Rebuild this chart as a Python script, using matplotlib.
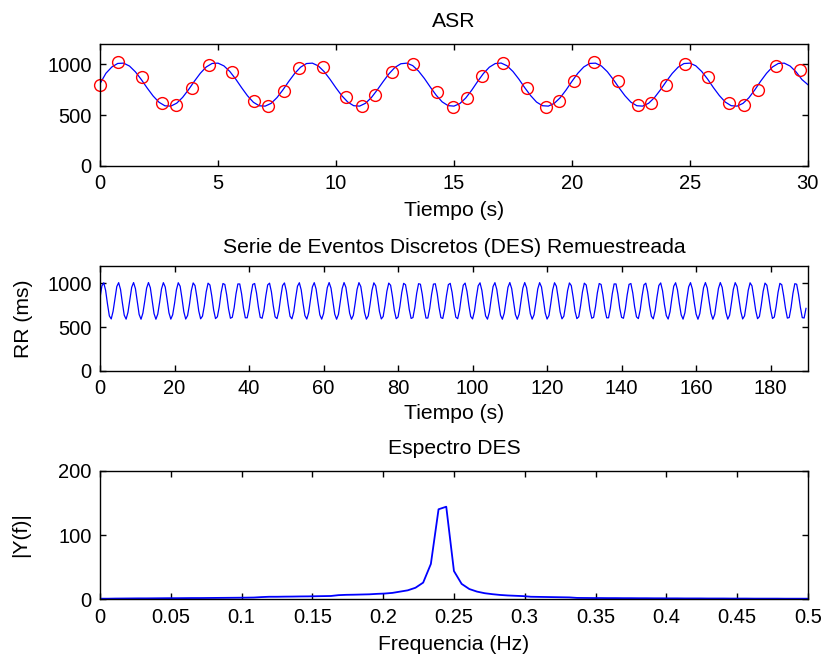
import numpy as np
import matplotlib
matplotlib.use('Agg')
import matplotlib.pyplot as plt

plt.rcParams['font.family'] = ['Liberation Sans', 'DejaVu Sans']
plt.rcParams['font.size'] = 15.2
plt.rcParams['axes.titlesize'] = 15.2
plt.rcParams['xtick.labelsize'] = 14.5
plt.rcParams['ytick.labelsize'] = 14.5

# -------------------- datos ----------------------
# ASR: curva continua cada 0.25 s (0..30 s)
asr_line = [
    810, 912, 974, 1009, 1012, 983, 926, 850, 766, 688, 626, 591, 588, 617, 674, 750,
    834, 912, 974, 1009, 1012, 985, 930, 855, 770, 690, 626, 591, 588, 615, 672, 748,
    832, 910, 972, 1008, 1012, 985, 928, 852, 768, 690, 628, 592, 588, 616, 672, 748,
    830, 908, 970, 1006, 1012, 988, 934, 860, 775, 695, 630, 593, 588, 613, 668, 744,
    830, 910, 972, 1008, 1013, 986, 930, 855, 770, 692, 628, 592, 588, 615, 670, 746,
    832, 912, 974, 1009, 1012, 984, 928, 852, 768, 690, 627, 592, 588, 616, 672, 748,
    832, 910, 972, 1008, 1012, 986, 930, 855, 770, 692, 628, 592, 588, 615, 670, 748,
    834, 912, 974, 1009, 1012, 983, 926, 850, 800,
]
# eventos (latidos): instante y valor RR
asr_t = [0.00, 0.76, 1.77, 2.64, 3.23, 3.90, 4.63, 5.61, 6.51, 7.12, 7.79, 8.43, 9.43,
         10.43, 11.10, 11.67, 12.39, 13.28, 14.30, 14.96, 15.54, 16.18, 17.08, 18.10,
         18.90, 19.44, 20.09, 20.92, 21.94, 22.80, 23.34, 24.00, 24.79, 25.75, 26.66,
         27.28, 27.89, 28.63, 29.67]
asr_rr = [795, 1020, 876, 616, 599, 762, 993, 925, 642, 590, 733, 961, 974,
          681, 590, 700, 925, 1006, 725, 582, 668, 886, 1013, 765,
          583, 642, 831, 1020, 831, 603, 616, 798, 1006, 876, 619,
          599, 746, 987, 941]

# DES remuestreada a 2 Hz (0..189.5 s)
des_rr = [
    836, 972, 1007, 920, 764, 628, 593, 680, 823, 964, 1009, 931, 777, 636, 591, 669,
    810, 956, 1010, 941, 790, 644, 590, 659, 797, 946, 1010, 951, 803, 654, 590, 649,
    784, 937, 1009, 959, 816, 663, 591, 641, 771, 926, 1008, 968, 829, 674, 592, 632,
    758, 916, 1006, 975, 842, 684, 594, 625, 745, 904, 1003, 982, 855, 696, 597, 618,
    732, 893, 999, 988, 868, 707, 601, 612, 720, 881, 994, 994, 880, 719, 606, 606,
    708, 868, 989, 999, 892, 732, 611, 601, 696, 856, 983, 1003, 904, 744, 617, 597,
    685, 843, 976, 1006, 915, 757, 624, 594, 674, 830, 968, 1008, 926, 770, 632, 592,
    664, 817, 960, 1009, 936, 783, 640, 591, 654, 804, 951, 1010, 946, 796, 649, 590,
    645, 790, 942, 1010, 955, 810, 658, 590, 636, 777, 932, 1009, 964, 823, 668, 591,
    628, 764, 921, 1007, 972, 836, 679, 593, 621, 751, 910, 1004, 979, 849, 690, 596,
    615, 739, 898, 1001, 985, 861, 702, 599, 609, 726, 887, 997, 991, 874, 713, 603,
    604, 714, 875, 992, 996, 886, 725, 608, 599, 702, 862, 986, 1001, 898, 738, 614,
    596, 691, 849, 979, 1004, 909, 751, 621, 593, 680, 837, 972, 1007, 920, 763, 628,
    591, 669, 823, 964, 1009, 931, 777, 636, 590, 659, 810, 956, 1010, 941, 790, 644,
    590, 649, 797, 946, 1010, 951, 803, 654, 591, 641, 784, 937, 1009, 959, 816, 663,
    592, 632, 771, 926, 1008, 968, 829, 674, 594, 625, 758, 916, 1006, 975, 842, 684,
    597, 618, 745, 904, 1003, 982, 855, 696, 601, 612, 732, 893, 999, 988, 868, 707,
    606, 606, 720, 881, 994, 994, 880, 719, 611, 601, 708, 868, 989, 999, 892, 732,
    617, 597, 696, 856, 983, 1003, 904, 744, 624, 594, 685, 843, 976, 1006, 915, 757,
    632, 592, 674, 830, 968, 1008, 926, 770, 640, 591, 664, 817, 960, 1009, 936, 783,
    649, 590, 654, 804, 951, 1010, 946, 796, 658, 590, 645, 790, 942, 1010, 955, 810,
    668, 591, 636, 777, 932, 1009, 964, 823, 679, 593, 628, 764, 921, 1007, 972, 836,
    690, 596, 621, 751, 910, 1004, 979, 849, 702, 599, 615, 739, 898, 1001, 985, 861,
    713, 603, 609, 726, 887, 997, 991, 874, 725, 608, 604, 714,
]

# espectro |Y(f)|, 0..0.5 Hz
spec = [
    1.0, 1.0, 1.2, 1.3, 1.4, 1.5, 1.5, 1.6, 1.7, 1.8, 1.8, 1.9, 2.0, 2.0, 2.1, 2.2,
    2.3, 2.4, 2.5, 2.6, 2.8, 3.5, 4.0, 4.0, 4.2, 4.3, 4.5, 4.6, 4.8, 5.0, 5.2, 6.5,
    7.0, 7.2, 7.5, 7.8, 8.5, 9.0, 10.0, 12.0, 14.0, 18.0, 26.0, 55.0, 140.0, 144.0,
    44.0, 24.0, 16.0, 12.0, 9.5, 8.0, 6.8, 6.0, 5.5, 5.0, 4.0, 3.8, 3.6, 3.4, 3.2,
    3.0, 2.2, 2.1, 2.0, 2.0, 1.9, 1.9, 1.8, 1.8, 1.7, 1.7, 1.6, 1.6, 1.5, 1.5, 1.4,
    1.4, 1.4, 1.3, 1.3, 1.3, 1.2, 1.2, 1.2, 1.1, 1.1, 1.1, 1.1, 1.0, 1.0, 1.0, 1.0,
]

t_line = np.arange(len(asr_line)) * 0.25
t_des = np.arange(len(des_rr)) * 0.5
f_spec = np.linspace(0, 0.5, len(spec))


def style_axes(ax):
    ax.tick_params(direction='in', top=True, right=True, length=4, width=1, pad=6)
    for sp in ax.spines.values():
        sp.set_linewidth(1.0)


fig = plt.figure(figsize=(8.24, 6.61), dpi=100)

# ASR
ax1 = fig.add_axes([0.1214, 0.7493, 0.859, 0.184])
ax1.plot(t_line, asr_line, color='blue', lw=0.9)
ax1.plot(asr_t, asr_rr, 'o', mfc='none', mec='red', ms=8.5, mew=1.0, clip_on=False)
ax1.set_xlim(0, 30)
ax1.set_ylim(0, 1200)
ax1.set_xticks(range(0, 31, 5))
ax1.set_yticks([0, 500, 1000])
ax1.set_title('ASR', pad=12)
ax1.set_xlabel('Tiempo (s)', labelpad=6)
style_axes(ax1)

# DES
ax2 = fig.add_axes([0.1214, 0.4392, 0.859, 0.1584])
ax2.plot(t_des, des_rr, color='blue', lw=0.9)
ax2.set_xlim(0, 190)
ax2.set_ylim(0, 1200)
ax2.set_xticks(range(0, 181, 20))
ax2.set_yticks([0, 500, 1000])
ax2.set_title('Serie de Eventos Discretos (DES) Remuestreada', pad=9)
ax2.set_xlabel('Tiempo (s)', labelpad=4)
ax2.set_ylabel('RR (ms)', labelpad=10)
style_axes(ax2)

# Espectro
ax3 = fig.add_axes([0.1214, 0.0933, 0.859, 0.1946])
ax3.plot(f_spec, spec, color='blue', lw=1.3)
ax3.set_xlim(0, 0.5)
ax3.set_ylim(0, 200)
ax3.set_xticks(np.arange(0, 0.51, 0.05))
ax3.set_xticklabels(['0', '0.05', '0.1', '0.15', '0.2', '0.25', '0.3', '0.35', '0.4', '0.45', '0.5'])
ax3.set_yticks([0, 100, 200])
ax3.set_title('Espectro DES', pad=12)
ax3.set_xlabel('Frequencia (Hz)', labelpad=6)
ax3.set_ylabel('|Y(f)|', labelpad=20)
style_axes(ax3)

fig.savefig('out.png', dpi=100)
